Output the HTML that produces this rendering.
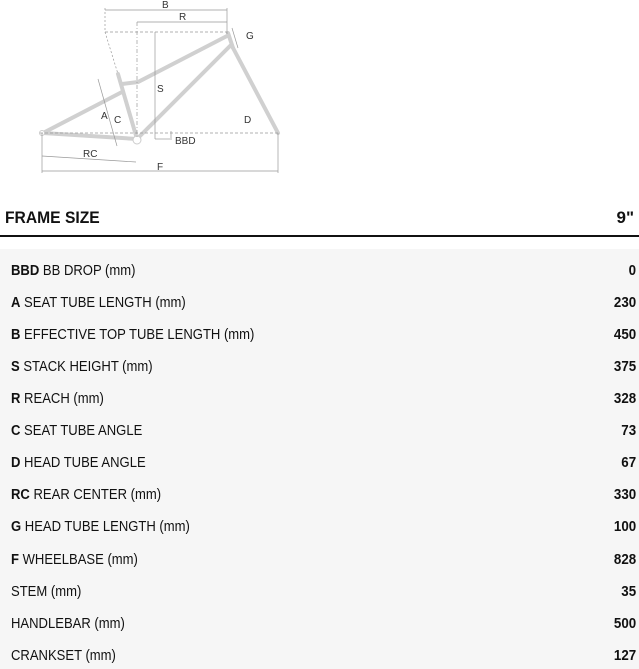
<!DOCTYPE html>
<html><head><meta charset="utf-8"><style>
body{margin:0;width:639px;height:665px;overflow:hidden;background:#fff;font-family:"Liberation Sans",sans-serif;color:#111}
.hdr{position:absolute;left:5px;top:208px;width:629px;font-size:17px;font-weight:bold;display:flex;justify-content:space-between}
.hdr span:first-child{transform:scaleX(0.92);transform-origin:left center}
.line{position:absolute;left:0;top:235px;width:639px;height:2px;background:#111}
.tbl{position:absolute;left:0;top:249px;width:639px;height:420px;background:#f6f6f6}
.r{position:absolute;left:11px;width:625px;font-size:14.5px;display:flex;justify-content:space-between;line-height:18px}
.r span:first-child{transform:scaleX(0.9);transform-origin:left center;white-space:nowrap}
.r span:last-child{font-weight:bold;transform:scaleX(0.92);transform-origin:right center}
</style></head><body>
<svg width="300" height="180" style="position:absolute;left:0;top:0" font-family="Liberation Sans, sans-serif" font-size="10" fill="#333">
<g stroke="#d0d0d0" stroke-width="4" fill="none" stroke-linecap="round">
<line x1="43" y1="133" x2="137" y2="139"/>
<line x1="43" y1="133" x2="122" y2="92"/>
<line x1="118" y1="74" x2="137" y2="139"/>
<polyline points="122,84 138,82 227,36"/>
<line x1="137" y1="139" x2="231" y2="45"/>
<line x1="228" y1="33" x2="233" y2="48"/>
<line x1="232" y1="46" x2="278" y2="133"/>
</g>
<circle cx="137" cy="140" r="4" fill="#fff" stroke="#ccc"/>
<circle cx="42" cy="133" r="2.5" fill="#fff" stroke="#ccc"/>
<g stroke="#999" stroke-width="0.7" fill="none">
<line x1="105" y1="10" x2="227" y2="10"/><line x1="105" y1="8" x2="105" y2="32" stroke-dasharray="2,2"/>
<line x1="137" y1="22" x2="227" y2="22"/><line x1="227" y1="8" x2="227" y2="34"/>
<line x1="105" y1="32" x2="227" y2="32" stroke-dasharray="3,2"/>
<line x1="137" y1="22" x2="137" y2="139" stroke-dasharray="4,2,1,2"/>
<line x1="155" y1="32" x2="155" y2="139"/>
<line x1="105" y1="32" x2="118" y2="74" stroke-dasharray="2,2"/>
<line x1="98" y1="79" x2="117" y2="146"/>
<line x1="40" y1="133" x2="280" y2="133" stroke-dasharray="3,2"/>
<line x1="42" y1="156" x2="136" y2="162"/>
<line x1="42" y1="171" x2="278" y2="171"/>
<line x1="42" y1="133" x2="42" y2="173"/><line x1="278" y1="133" x2="278" y2="173"/>
<line x1="232" y1="28" x2="238" y2="48"/>
<line x1="155" y1="139" x2="170" y2="139"/><line x1="171" y1="131" x2="171" y2="140"/>
</g>
<text x="162" y="8">B</text><text x="179" y="20">R</text><text x="246" y="39">G</text>
<text x="157" y="92">S</text><text x="101" y="119">A</text><text x="114" y="123">C</text>
<text x="244" y="123">D</text><text x="175" y="144">BBD</text>
<text x="83" y="157">RC</text><text x="157" y="170">F</text>
</svg>
<div class="hdr"><span>FRAME SIZE</span><span>9"</span></div>
<div class="line"></div>
<div class="tbl"></div>
<div class="r" style="top:262px"><span><b>BBD</b> BB DROP (mm)</span><span>0</span></div>
<div class="r" style="top:294px"><span><b>A</b> SEAT TUBE LENGTH (mm)</span><span>230</span></div>
<div class="r" style="top:326px"><span><b>B</b> EFFECTIVE TOP TUBE LENGTH (mm)</span><span>450</span></div>
<div class="r" style="top:358px"><span><b>S</b> STACK HEIGHT (mm)</span><span>375</span></div>
<div class="r" style="top:390px"><span><b>R</b> REACH (mm)</span><span>328</span></div>
<div class="r" style="top:422px"><span><b>C</b> SEAT TUBE ANGLE</span><span>73</span></div>
<div class="r" style="top:454px"><span><b>D</b> HEAD TUBE ANGLE</span><span>67</span></div>
<div class="r" style="top:486px"><span><b>RC</b> REAR CENTER (mm)</span><span>330</span></div>
<div class="r" style="top:518px"><span><b>G</b> HEAD TUBE LENGTH (mm)</span><span>100</span></div>
<div class="r" style="top:551px"><span><b>F</b> WHEELBASE (mm)</span><span>828</span></div>
<div class="r" style="top:583px"><span>STEM (mm)</span><span>35</span></div>
<div class="r" style="top:615px"><span>HANDLEBAR (mm)</span><span>500</span></div>
<div class="r" style="top:647px"><span>CRANKSET (mm)</span><span>127</span></div>
</body></html>
